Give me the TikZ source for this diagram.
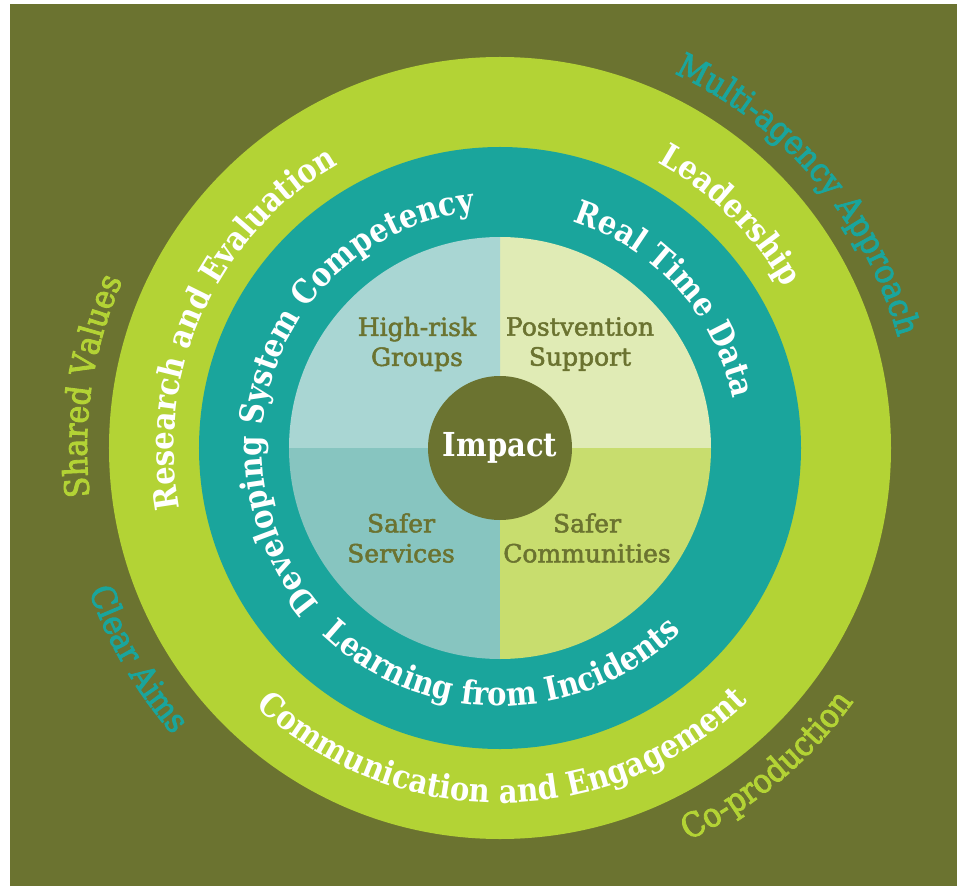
\documentclass[tikz,border=0pt]{standalone}
\usepackage{fontspec}
\setmainfont{DejaVu Serif}
\newfontfamily\ringfont{DejaVu Serif}[FakeStretch=0.88]
\newfontfamily\outerfont{DejaVu Serif}[FakeStretch=0.9,FakeBold=2.6]
\newfontfamily\quadfont{DejaVu Serif}[FakeBold=2]
\usetikzlibrary{decorations.text}

\definecolor{bgolive}{HTML}{6B7330}
\definecolor{ringlime}{HTML}{B3D335}
\definecolor{ringteal}{HTML}{1AA59C}
\definecolor{quadTL}{HTML}{A9D6D3}
\definecolor{quadTR}{HTML}{E0EBB5}
\definecolor{quadBL}{HTML}{87C5C0}
\definecolor{quadBR}{HTML}{C8DD6E}

% text running clockwise round the centre (letter tops face outwards)
% #1 baseline radius, #2 middle angle, #3 colour, #4 font, #5 text
\newcommand\cwtext[5]{%
  \path[decorate,decoration={text along path,text align=center,
      text={|#4\color{#3}|#5}}]
    ({#2+85}:#1pt) arc[start angle={#2+85},end angle={#2-85},radius=#1pt];}
% text running anticlockwise (letter tops face the centre)
\newcommand\ccwtext[5]{%
  \path[decorate,decoration={text along path,text align=center,
      text={|#4\color{#3}|#5}}]
    ({#2-85}:#1pt) arc[start angle={#2-85},end angle={#2+85},radius=#1pt];}

\newcommand\whitering{\ringfont\bfseries\fontsize{33}{33}\selectfont}
\newcommand\outerring{\outerfont\fontsize{33.5}{33.5}\selectfont}

\tikzset{
  quadlabel/.style={align=center,text=bgolive,inner sep=0pt,
    font=\quadfont\fontsize{25}{30}\selectfont},
}

\begin{document}
\begin{tikzpicture}[x=1pt,y=1pt]
  \useasboundingbox (-500,-438) rectangle (457,448);
  \fill[white] (-500,-438) rectangle (457,448);
  \fill[bgolive] (-490,-438) rectangle (457,444);

  % rings
  \fill[ringlime] (0,0) circle[radius=391pt];
  \fill[ringteal] (0,0) circle[radius=301pt];

  % four quarters
  \fill[quadTR] (0,0) -- (0:211pt) arc[start angle=0,end angle=90,radius=211pt] -- cycle;
  \fill[quadTL] (0,0) -- (90:211pt) arc[start angle=90,end angle=180,radius=211pt] -- cycle;
  \fill[quadBL] (0,0) -- (180:211pt) arc[start angle=180,end angle=270,radius=211pt] -- cycle;
  \fill[quadBR] (0,0) -- (270:211pt) arc[start angle=270,end angle=360,radius=211pt] -- cycle;

  \node[circle,fill=bgolive,minimum size=144pt,inner sep=0pt,text=white,
        font=\ringfont\bfseries\fontsize{33}{33}\selectfont] (impact) at (0,0) {Impact};

  \node[quadlabel] (highrisk) at (-83,104) {High-risk\\Groups};
  \node[quadlabel] (postvention) at (80,104) {Postvention\\Support};
  \node[quadlabel] (services) at (-99,-90) {Safer\\Services};
  \node[quadlabel] (communities) at (87,-90) {Safer\\Communities};

  % teal ring
  \cwtext{238}{158.5}{white}{\whitering}{Developing System Competency}
  \cwtext{238}{42}{white}{\whitering}{Real Time Data}
  \ccwtext{258}{270.5}{white}{\whitering}{Learning from Incidents}

  % lime ring
  \cwtext{326}{155.2}{white}{\whitering}{Research and Evaluation}
  \cwtext{326}{45.2}{white}{\whitering}{Leadership}
  \ccwtext{355}{270.5}{white}{\whitering}{Communication and Engagement}

  % outside the rings
  \cwtext{413}{40.3}{ringteal}{\outerring}{Multi-agency Approach}
  \cwtext{413}{171.4}{ringlime}{\outerring}{Shared Values}
  \ccwtext{435}{210.2}{ringteal}{\outerring}{Clear Aims}
  \ccwtext{435}{310}{ringlime}{\outerring}{Co-production}
\end{tikzpicture}
\end{document}
